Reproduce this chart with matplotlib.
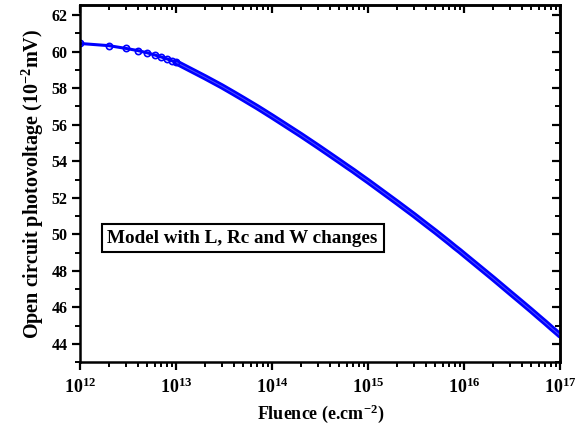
import numpy as np
import matplotlib
matplotlib.use("Agg")
import matplotlib.pyplot as plt
from matplotlib.ticker import LogLocator, MultipleLocator, NullFormatter

plt.rcParams['font.family'] = 'Liberation Serif'
plt.rcParams['font.weight'] = 'bold'
plt.rcParams['axes.labelweight'] = 'bold'
plt.rcParams['mathtext.fontset'] = 'custom'
plt.rcParams['mathtext.rm'] = 'Liberation Serif:bold'
plt.rcParams['mathtext.default'] = 'regular'

# fluence (e.cm^-2), read at 1..9 x each decade
fluence = [k * 10.0**e for e in range(12, 17) for k in range(1, 10)] + [1e17]

# open circuit photovoltage (10^-2 mV)
voc = [
    60.45, 60.33, 60.18, 60.06, 59.94, 59.82, 59.71, 59.61, 59.51,
    59.42, 58.60, 58.10, 57.72, 57.42, 57.17, 56.96, 56.77, 56.60,
    56.45, 55.43, 54.81, 54.36, 54.01, 53.72, 53.48, 53.26, 53.07,
    52.90, 51.74, 51.05, 50.54, 50.15, 49.82, 49.54, 49.29, 49.08,
    48.88, 47.58, 46.80, 46.25, 45.82, 45.46, 45.16, 44.89, 44.66,
    44.45,
]

label_text = "Model with L, Rc and W changes"

fig = plt.figure(figsize=(5.8, 4.28), dpi=100)
ax = fig.add_axes([0.138, 0.154, 0.828, 0.834])

x = np.array(fluence)
y = np.array(voc)

# thin line with open circles over the first decade, thicker band after that
blue = '#0000ff'
ax.plot(x, y, color=blue, lw=2.2, solid_capstyle='round')
band = x >= 1e13
ax.plot(x[band], y[band], color=blue, lw=4.4, solid_capstyle='round')
ax.plot(x[band], y[band], color='#5050ff', lw=0.7)
ax.plot(x[:10], y[:10], ls='none', marker='o', ms=4.5, mfc='none',
        mec=blue, mew=1.2)

ax.set_xscale('log')
ax.set_xlim(1e12, 1e17)
ax.set_ylim(43, 62.55)

ax.xaxis.set_major_locator(LogLocator(base=10, numticks=10))
ax.xaxis.set_minor_locator(LogLocator(base=10, subs=np.arange(2, 10), numticks=100))
ax.xaxis.set_minor_formatter(NullFormatter())
ax.yaxis.set_major_locator(MultipleLocator(2))
ax.yaxis.set_minor_locator(MultipleLocator(1))

for s in ax.spines.values():
    s.set_linewidth(1.8)

ax.tick_params(axis='both', which='major', direction='out', length=6, width=1.6)
ax.tick_params(axis='both', which='minor', direction='out', length=3.5, width=1.4)
ax.tick_params(axis='x', which='major', labelsize=13, pad=5)
ax.tick_params(axis='y', which='major', labelsize=11.5, pad=3)

# top / right ticks point inward
ax2 = ax.secondary_xaxis('top')
ax2.xaxis.set_major_locator(LogLocator(base=10, numticks=10))
ax2.xaxis.set_minor_locator(LogLocator(base=10, subs=np.arange(2, 10), numticks=100))
ax2.tick_params(which='major', direction='in', length=6, width=1.6, labeltop=False)
ax2.tick_params(which='minor', direction='in', length=3.5, width=1.4)
ax2.spines['top'].set_linewidth(1.8)
ay2 = ax.secondary_yaxis('right')
ay2.yaxis.set_major_locator(MultipleLocator(2))
ay2.yaxis.set_minor_locator(MultipleLocator(1))
ay2.tick_params(which='major', direction='in', length=6, width=1.6, labelright=False)
ay2.tick_params(which='minor', direction='in', length=3.5, width=1.4)
ay2.spines['right'].set_linewidth(1.8)

ax.set_xlabel('Fluence (e.cm$^{-2}$)', fontsize=13, labelpad=4)
ax.set_ylabel('Open circuit photovoltage (10$^{-2}$mV)', fontsize=14.5, labelpad=4)

ax.text(0.057, 0.347, label_text, transform=ax.transAxes, fontsize=13.8,
        fontweight='bold', va='center', ha='left',
        bbox=dict(boxstyle='square,pad=0.3', fc='white', ec='black', lw=1.5))

fig.savefig('out.png', dpi=100)
